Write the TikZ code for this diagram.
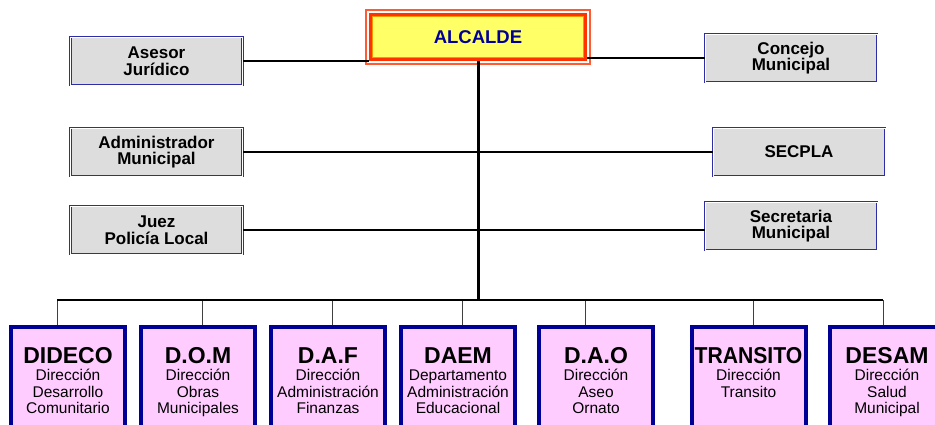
\documentclass[tikz,border=0pt]{standalone}
\usepackage{fontspec}
\setmainfont{Liberation Sans}
\usepackage{xcolor}
\usepackage{tikz}
\usetikzlibrary{calc,positioning}

\definecolor{boxgray}{RGB}{221,221,221}
\definecolor{boxblue}{RGB}{45,45,165}
\definecolor{deptnavy}{RGB}{0,0,150}
\definecolor{deptpink}{RGB}{255,204,255}
\definecolor{alcyellow}{RGB}{255,255,102}
\definecolor{alcred}{RGB}{255,51,0}
\definecolor{alcline}{RGB}{255,90,50}
\definecolor{alcorange}{RGB}{255,150,0}

\begin{document}
\begin{tikzpicture}[x=1pt,y=-1pt,
  cargo/.style={draw=boxblue,double=white,double distance=0.9pt,line width=1pt,
    fill=boxgray,minimum width=172pt,minimum height=48pt,inner sep=0pt,
    align=center,font=\fontsize{17}{16.5}\selectfont\bfseries},
  dept/.style={draw=deptnavy,line width=4pt,fill=deptpink,minimum width=114pt,
    minimum height=123pt,inner sep=0pt},
  depttext/.style={anchor=north,inner sep=0pt,align=center,
    font=\fontsize{15.5}{16.5}\selectfont},
  mainline/.style={line width=2pt},
  drop/.style={line width=0.8pt,black!75}]
 	\clip (0,0) rectangle (935,425);
 	\fill[white] (0,0) rectangle (935,425);
 	% alcalde
 	\node[draw=alcred,line width=3pt,fill=alcyellow,minimum width=215pt,minimum height=45pt,
 	  font=\fontsize{18.5}{18.5}\selectfont\bfseries,text=deptnavy] (alc) at (478,37) {ALCALDE};
 	\draw[alcline,line width=1.2pt] ([shift={(-3pt,-3pt)}]alc.south west) rectangle ([shift={(3pt,3pt)}]alc.north east);
 	\draw[alcorange,line width=0.8pt] ([shift={(3.5pt,3.5pt)}]alc.south west) rectangle ([shift={(-3.5pt,-3.5pt)}]alc.north east);
 	% asesores
 	\node[cargo] (ases) at (156.5,61) {Asesor\\Jurídico};
 	\node[cargo] (adm) at (156.5,152) {Administrador\\Municipal};
 	\node[cargo] (juez) at (156.5,230) {Juez\\Policía Local};
 	\node[cargo] (conc) at (791,58) {Concejo\\Municipal};
 	\node[cargo] (secpla) at (799,152) {SECPLA};
 	\node[cargo] (secr) at (791,226) {Secretaria\\Municipal};
 	\draw[mainline] (ases.east) -- (ases.east -| alc.west);
 	\draw[mainline] (conc.west) -- (conc.west -| alc.east);
 	\draw[mainline] (adm.east) -- (adm.east -| secpla.west);
 	\draw[mainline] (juez.east) -- (juez.east -| secr.west);
 	\coordinate (bus) at (478,300);
 	\draw[line width=3pt] (alc.south) -- (bus);
 	% direcciones
 	\foreach \nm/\cx/\dx/\tit/\sub in {
 	  dideco/68/57/{DIDECO}/{Dirección\\Desarrollo\\Comunitario},
 	  dom/198/202/{D.O.M}/{Dirección\\Obras\\Municipales},
 	  daf/328/332/{D.A.F}/{Dirección\\Administración\\Finanzas},
 	  daem/458/462/{DAEM}/{Departamento\\Administración\\Educacional},
 	  dao/596/585/{D.A.O}/{Dirección\\Aseo\\Ornato},
 	  transito/748.5/753/{\scalebox{0.92}[1]{TRANSITO}}/{Dirección\\Transito},
 	  desam/887/883/{DESAM}/{Dirección\\Salud\\Municipal}}{
 	  \node[dept] (\nm) at (\cx,388.5) {};
 	  \node[depttext] (txt-\nm) at ([yshift=-22pt]\nm.north)
 	    {{\fontsize{23}{23}\selectfont\bfseries \tit}\\[1pt]\sub};
 	  \coordinate (top-\nm) at (\dx,325);
 	  \draw[drop] (top-\nm) -- (top-\nm |- bus);
 	}
 	\draw[mainline] (top-dideco |- bus) -- (top-desam |- bus);
\end{tikzpicture}
\end{document}
